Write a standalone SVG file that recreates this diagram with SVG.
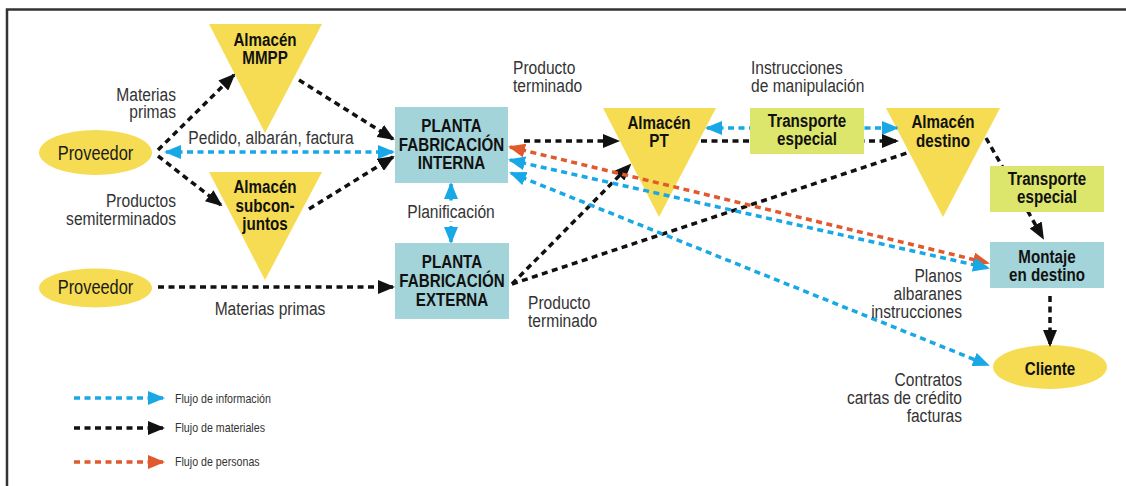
<svg xmlns="http://www.w3.org/2000/svg" width="1126" height="486" viewBox="0 0 1126 486">
  <style>
    text { font-family: "Liberation Sans", Arial, sans-serif; }
    .lbl { font-size: 19px; fill: #333; }
    .end { text-anchor: end; }
    .mid { text-anchor: middle; }
    .nodeTxt { font-size: 18.5px; font-weight: bold; fill: #111; text-anchor: middle; }
    .provTxt { font-size: 20px; fill: #1a1a1a; text-anchor: middle; }
    .legTxt { font-size: 13px; fill: #333; }
    .tri { fill: #f6dc52; }
    .ell { fill: #f6dc52; }
    .plant { fill: #a3d4d9; }
    .trans { fill: #dde66c; }
    .flow { fill: none; stroke-width: 3.5; stroke-dasharray: 6 4.5; }
    .mat { stroke: #111; }
    .inf { stroke: #19a8e6; }
    .per { stroke: #e05a2e; }
  </style>
  <defs>
    <marker id="ahMat" markerUnits="userSpaceOnUse" viewBox="0 0 17 14" markerWidth="17" markerHeight="14" refX="15" refY="7" orient="auto-start-reverse">
      <path d="M0,0 L17,7 L0,14 z" fill="#111"/>
    </marker>
    <marker id="ahInf" markerUnits="userSpaceOnUse" viewBox="0 0 17 14" markerWidth="17" markerHeight="14" refX="15" refY="7" orient="auto-start-reverse">
      <path d="M0,0 L17,7 L0,14 z" fill="#19a8e6"/>
    </marker>
    <marker id="ahPer" markerUnits="userSpaceOnUse" viewBox="0 0 17 14" markerWidth="17" markerHeight="14" refX="15" refY="7" orient="auto-start-reverse">
      <path d="M0,0 L17,7 L0,14 z" fill="#e05a2e"/>
    </marker>
  </defs>

  <rect width="1126" height="486" fill="#fff"/>
  <!-- frame -->
  <path d="M7,486 L7,9.5 L1126,9.5" fill="none" stroke="#333" stroke-width="2.5"/>

  <!-- warehouses (triangles) and ellipses; all text is condensed with scale(0.82,1) -->
  <g id="almacen-mmpp">
    <polygon class="tri" points="209,24 322,24 265,133"/>
    <text class="nodeTxt" transform="translate(265,46) scale(0.82,1)">Almacén</text>
    <text class="nodeTxt" transform="translate(265,64) scale(0.82,1)">MMPP</text>
  </g>
  <g id="almacen-subconjuntos">
    <polygon class="tri" points="209,172 322,172 265,280"/>
    <text class="nodeTxt" transform="translate(265,193) scale(0.82,1)">Almacén</text>
    <text class="nodeTxt" transform="translate(265,212) scale(0.82,1)">subcon-</text>
    <text class="nodeTxt" transform="translate(265,230) scale(0.82,1)">juntos</text>
  </g>
  <g id="almacen-pt">
    <polygon class="tri" points="603,108 716,108 659,217"/>
    <text class="nodeTxt" transform="translate(659,129) scale(0.82,1)">Almacén</text>
    <text class="nodeTxt" transform="translate(659,147) scale(0.82,1)">PT</text>
  </g>
  <g id="almacen-destino">
    <polygon class="tri" points="886,108 1000,108 943,217"/>
    <text class="nodeTxt" transform="translate(943,128) scale(0.82,1)">Almacén</text>
    <text class="nodeTxt" transform="translate(943,147) scale(0.82,1)">destino</text>
  </g>
  <g id="proveedor-1">
    <ellipse class="ell" cx="95.5" cy="152.5" rx="56.5" ry="22.5"/>
    <text class="provTxt" transform="translate(95.5,159.5) scale(0.82,1)">Proveedor</text>
  </g>
  <g id="proveedor-2">
    <ellipse class="ell" cx="95.5" cy="288" rx="56.5" ry="19.5"/>
    <text class="provTxt" transform="translate(95.5,293.5) scale(0.82,1)">Proveedor</text>
  </g>
  <g id="cliente">
    <ellipse class="ell" cx="1050" cy="367" rx="57" ry="22"/>
    <text class="nodeTxt" transform="translate(1050,375) scale(0.82,1)">Cliente</text>
  </g>

  <!-- flows -->
  <g id="connectors">
    <path class="flow mat" d="M158,150 L234,75" marker-end="url(#ahMat)"/>
    <path class="flow mat" d="M158,156 L221,205" marker-end="url(#ahMat)"/>
    <path class="flow inf" d="M166,152 L393,152" marker-start="url(#ahInf)" marker-end="url(#ahInf)"/>
    <path class="flow mat" d="M299,80 L393,139" marker-end="url(#ahMat)"/>
    <path class="flow mat" d="M309,209 L393,157" marker-end="url(#ahMat)"/>
    <path class="flow mat" d="M158,287 L393,287" marker-end="url(#ahMat)"/>
    <path class="flow inf" d="M451,184 L451,242" marker-start="url(#ahInf)" marker-end="url(#ahInf)"/>
    <path class="flow mat" d="M524,141 L618,141" marker-end="url(#ahMat)"/>
    <path class="flow inf" d="M707,128 L897,128" marker-start="url(#ahInf)" marker-end="url(#ahInf)"/>
    <path class="flow mat" d="M701,141 L897,141" marker-end="url(#ahMat)"/>
    <path class="flow mat" d="M512,284 L630,165" marker-end="url(#ahMat)"/>
    <path class="flow mat" d="M512,284 L910,152"/>
    <path class="flow mat" d="M986,138 L1043,238" marker-end="url(#ahMat)"/>
    <path class="flow mat" d="M1050,296 L1050,345" marker-end="url(#ahMat)"/>
    <path class="flow per" d="M510,147 L988,263" marker-start="url(#ahPer)" marker-end="url(#ahPer)"/>
    <path class="flow inf" d="M510,160 L988,268" marker-start="url(#ahInf)" marker-end="url(#ahInf)"/>
    <path class="flow inf" d="M511,173 L988,365" marker-start="url(#ahInf)" marker-end="url(#ahInf)"/>
  </g>

  <!-- plants and transport boxes -->
  <g id="planta-interna">
    <rect class="plant" x="395" y="107" width="113" height="76"/>
    <text class="nodeTxt" transform="translate(451.5,132) scale(0.82,1)">PLANTA</text>
    <text class="nodeTxt" transform="translate(451.5,151) scale(0.82,1)">FABRICACIÓN</text>
    <text class="nodeTxt" transform="translate(451.5,169) scale(0.82,1)">INTERNA</text>
  </g>
  <g id="planta-externa">
    <rect class="plant" x="395" y="243" width="114" height="76"/>
    <text class="nodeTxt" transform="translate(452,268) scale(0.82,1)">PLANTA</text>
    <text class="nodeTxt" transform="translate(452,287) scale(0.82,1)">FABRICACIÓN</text>
    <text class="nodeTxt" transform="translate(452,306) scale(0.82,1)">EXTERNA</text>
  </g>
  <g id="transporte-especial-1">
    <rect class="trans" x="750" y="108" width="114" height="46"/>
    <text class="nodeTxt" transform="translate(807,127) scale(0.82,1)">Transporte</text>
    <text class="nodeTxt" transform="translate(807,145) scale(0.82,1)">especial</text>
  </g>
  <g id="transporte-especial-2">
    <rect class="trans" x="990" y="166" width="114" height="46"/>
    <text class="nodeTxt" transform="translate(1047,185) scale(0.82,1)">Transporte</text>
    <text class="nodeTxt" transform="translate(1047,203) scale(0.82,1)">especial</text>
  </g>
  <g id="montaje-destino">
    <rect class="plant" x="990" y="242" width="114" height="46"/>
    <text class="nodeTxt" transform="translate(1047,263) scale(0.82,1)">Montaje</text>
    <text class="nodeTxt" transform="translate(1047,281) scale(0.82,1)">en destino</text>
  </g>

  <!-- flow labels -->
  <g id="labels">
    <text class="lbl end" transform="translate(176,101) scale(0.82,1)">Materias</text>
    <text class="lbl end" transform="translate(176,118) scale(0.82,1)">primas</text>
    <text class="lbl mid" transform="translate(271,144) scale(0.82,1)">Pedido, albarán, factura</text>
    <text class="lbl end" transform="translate(176,207) scale(0.82,1)">Productos</text>
    <text class="lbl end" transform="translate(176,225) scale(0.82,1)">semiterminados</text>
    <text class="lbl mid" transform="translate(270,315) scale(0.82,1)">Materias primas</text>
    <rect x="406" y="202" width="90" height="19" fill="#fff"/>
    <text class="lbl mid" transform="translate(451,218) scale(0.82,1)">Planificación</text>
    <text class="lbl" transform="translate(513,74) scale(0.82,1)">Producto</text>
    <text class="lbl" transform="translate(513,92) scale(0.82,1)">terminado</text>
    <text class="lbl" transform="translate(528,309) scale(0.82,1)">Producto</text>
    <text class="lbl" transform="translate(528,327) scale(0.82,1)">terminado</text>
    <text class="lbl" transform="translate(751,74) scale(0.82,1)">Instrucciones</text>
    <text class="lbl" transform="translate(751,92) scale(0.82,1)">de manipulación</text>
    <text class="lbl end" transform="translate(962,282) scale(0.82,1)">Planos</text>
    <text class="lbl end" transform="translate(962,300) scale(0.82,1)">albaranes</text>
    <text class="lbl end" transform="translate(962,318) scale(0.82,1)">instrucciones</text>
    <text class="lbl end" transform="translate(962,386) scale(0.82,1)">Contratos</text>
    <text class="lbl end" transform="translate(962,404) scale(0.82,1)">cartas de crédito</text>
    <text class="lbl end" transform="translate(962,422) scale(0.82,1)">facturas</text>
  </g>

  <!-- legend -->
  <g id="legend">
    <path class="flow inf" d="M74,398 L163,398" marker-end="url(#ahInf)"/>
    <text class="legTxt" transform="translate(175,403) scale(0.82,1)">Flujo de información</text>
    <path class="flow mat" d="M74,428 L163,428" marker-end="url(#ahMat)"/>
    <text class="legTxt" transform="translate(175,432) scale(0.82,1)">Flujo de materiales</text>
    <path class="flow per" d="M74,462 L163,462" marker-end="url(#ahPer)"/>
    <text class="legTxt" transform="translate(175,466) scale(0.82,1)">Flujo de personas</text>
  </g>
</svg>
